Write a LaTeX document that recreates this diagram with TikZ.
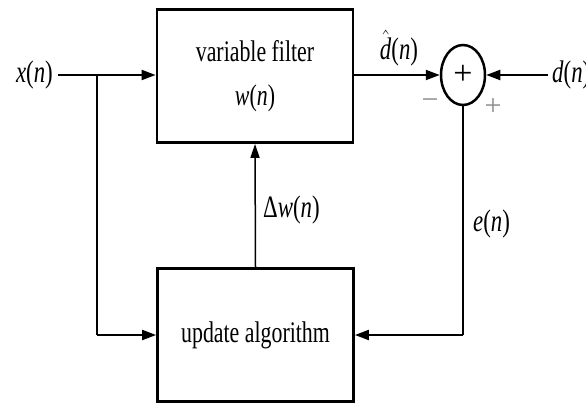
\documentclass[tikz,border=0pt]{standalone}
\usepackage{graphicx}
\usepackage{fontspec}
\setmainfont{Liberation Serif}
\usetikzlibrary{arrows.meta,shapes.geometric}
\newcommand\tallt[1]{\scalebox{0.95}[1.3]{#1}}
\newcommand\dhatsym{$\hat{\mbox{\textit{d}}}$}
\begin{document}
\begin{tikzpicture}[x=1pt,y=1pt,
  blockbox/.style={draw, line width=2.8pt, minimum width=196pt, minimum height=133pt, inner sep=0pt, align=center, font=\fontsize{23}{38}\selectfont},
  sumnode/.style={draw, ellipse, line width=2.5pt, minimum width=44pt, minimum height=60pt, inner sep=0pt, font=\fontsize{34}{36}\selectfont},
  lbl/.style={inner sep=0pt, font=\fontsize{24}{26}\selectfont},
  sgn/.style={inner sep=0pt, text=black!45, font=\fontsize{30}{32}\selectfont},
  sig/.style={line width=2pt, -{Triangle[length=14pt,width=10pt]}},
  wire/.style={line width=2pt}
]
\useasboundingbox (0,0) rectangle (586,-404);
\node[blockbox] (filt) at (255,-76) {\tallt{variable filter}\\[6pt]\tallt{\textit{w}(\textit{n})}};
\node[blockbox] (upd) at (255.5,-335) {\tallt{update algorithm}};
\node[sumnode] (sum) at (463,-75) {\raisebox{1pt}{+}};
\node[lbl, anchor=east] (x) at (53,-75) {\tallt{\textit{x}(\textit{n})}};
\node[lbl, anchor=west] (d) at (552,-75) {\tallt{\textit{d}(\textit{n})}};
\node[lbl] (dhat) at (399,-48) {\tallt{\dhatsym(\textit{n})}};
\node[lbl, anchor=west] (dw) at (263,-210) {\tallt{Δ\textit{w}(\textit{n})}};
\node[lbl, anchor=west] (e) at (473,-224) {\tallt{\textit{e}(\textit{n})}};
\node[sgn] (minus) at (430,-104) {−};
\node[sgn] (plus) at (493,-107) {+};
\coordinate (br) at (97,-75);
\coordinate (dl) at (97,-335);
\coordinate (er) at (463,-335);
\coordinate (ds) at (548,-75);
\draw[sig] ([xshift=5pt]x.east) -- (filt.west |- br);
\draw[wire] (br) -- (dl);
\draw[sig] (dl) -- (upd.west);
\draw[sig] (filt.east |- sum) -- (sum.west);
\draw[sig] (ds) -- (sum.east);
\draw[wire] (sum.south) -- (er);
\draw[sig] (er) -- (upd.east);
\draw[line width=1.5pt, -{Triangle[length=14pt,width=9pt]}] (upd.north) -- (filt.south);
\end{tikzpicture}
\end{document}
